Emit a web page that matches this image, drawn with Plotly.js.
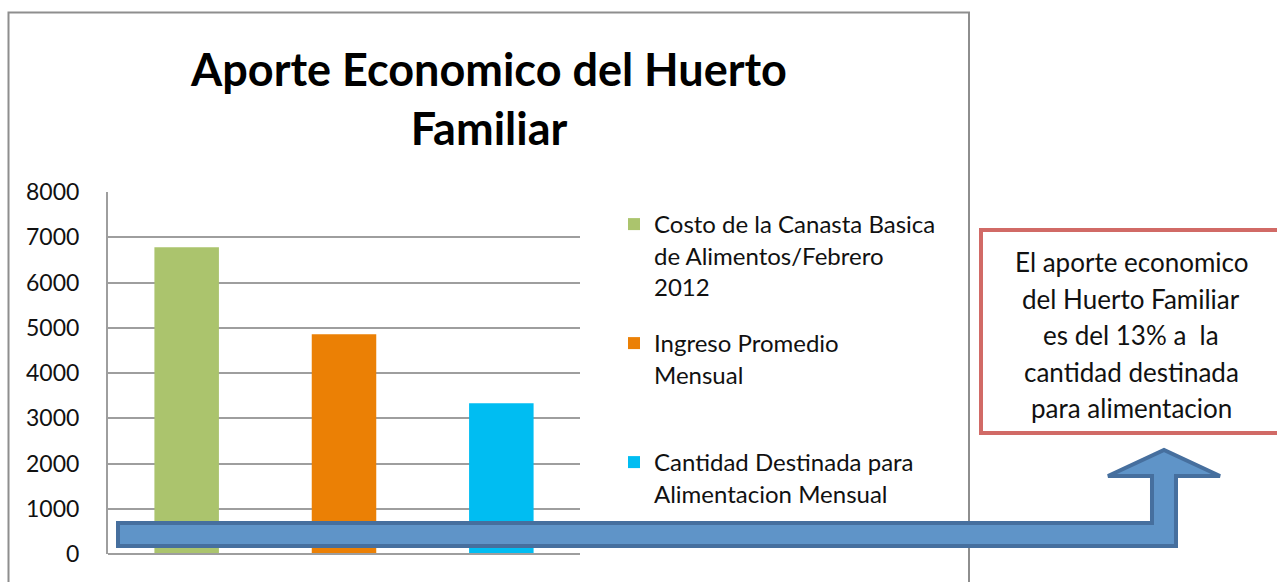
<!DOCTYPE html>
<html>
<head>
<meta charset="utf-8">
<script src="https://cdn.plot.ly/plotly-3.0.1.min.js"></script>
<style>html,body{margin:0;padding:0;background:#fff;}#chart{width:1277px;height:582px;}</style>
</head>
<body>
<div id="chart"></div>
<script>
// ---- data ----
const categories = ['Costo de la Canasta Basica de Alimentos/Febrero 2012', 'Ingreso Promedio Mensual', 'Cantidad Destinada para Alimentacion Mensual'];
const legendLabels = ['Costo de la Canasta Basica<br>de Alimentos/Febrero<br>2012', 'Ingreso Promedio<br>Mensual', 'Cantidad Destinada para<br>Alimentacion Mensual'];
const values = [6780, 4857, 3333];
const colors = ['#ABC46D', '#EB8005', '#00BDF2'];
const titleText = 'Aporte Economico del Huerto<br>Familiar';
const noteLines = ['El aporte economico', 'del Huerto Familiar', 'es del 13% a  la', 'cantidad destinada', 'para alimentacion'];
const yTicks = [0, 1000, 2000, 3000, 4000, 5000, 6000, 7000, 8000];

// ---- geometry (pixels) ----
const W = 1277, H = 582;
const L = 108, R = 580, T = 192, B = 554;
const px = x => (x - L) / (R - L);
const py = y => (B - y) / (B - T);
const FONT = 'Lato, "Open Sans", sans-serif';

const legendNames = ['legend', 'legend2', 'legend3'];
const traces = categories.map((c, i) => ({
  type: 'bar',
  x: [c],
  y: [values[i]],
  name: legendLabels[i],
  marker: {color: colors[i]},
  width: 0.41,
  legend: legendNames[i],
  hoverinfo: 'y'
}));

const legendTops = [202, 321, 440];
const legendCommon = {
  xanchor: 'left', yanchor: 'top', valign: 'top',
  font: {family: FONT, size: 24, color: '#111'},
  bgcolor: 'rgba(0,0,0,0)', borderwidth: 0, itemclick: false, itemdoubleclick: false
};
const layout = {
  width: W, height: H,
  margin: {l: L, r: W - R, t: T, b: H - B, pad: 0},
  paper_bgcolor: '#fff', plot_bgcolor: '#fff',
  barmode: 'overlay',
  showlegend: true,
  title: {
    text: titleText,
    font: {family: FONT, size: 45, color: '#000', weight: 'bold'},
    xref: 'container', x: 489 / W, xanchor: 'center',
    yref: 'container', y: 1 - 86 / H, yanchor: 'top'
  },
  xaxis: {
    type: 'category', categoryarray: categories, showticklabels: false,
    showgrid: false, zeroline: false, showline: false, ticks: '', fixedrange: true
  },
  yaxis: {
    range: [0, 8000], tickvals: yTicks, ticktext: yTicks.map(String),
    showgrid: true, gridcolor: '#9e9e9e', gridwidth: 2,
    zeroline: false, showline: true, linecolor: '#9e9e9e', linewidth: 2,
    ticks: '', ticklabelstandoff: 22,
    tickfont: {family: FONT, size: 23, color: '#111'}, fixedrange: true
  },
  shapes: [
    // outer chart frame
    {type: 'rect', xref: 'paper', yref: 'paper', x0: px(8.5), x1: px(969), y0: py(12.5), y1: py(600),
     line: {color: '#8e8e8e', width: 2}, fillcolor: 'rgba(0,0,0,0)', layer: 'below'},
    // x baseline
    {type: 'line', xref: 'paper', yref: 'paper', x0: 0, x1: 1, y0: 0, y1: 0, line: {color: '#9e9e9e', width: 2}},
    // note box
    {type: 'rect', xref: 'paper', yref: 'paper', x0: px(981), x1: px(1284), y0: py(230), y1: py(433),
     line: {color: '#D16A66', width: 4}, fillcolor: '#ffffff', layer: 'above'},
    // bent arrow
    {type: 'path', xref: 'paper', yref: 'paper', layer: 'above',
     path: [[118, 523], [1152, 523], [1152, 476], [1108, 476], [1164, 450], [1220, 476], [1176, 476], [1176, 546], [118, 546]]
       .map((p, k) => (k ? 'L' : 'M') + px(p[0]).toFixed(5) + ',' + py(p[1]).toFixed(5)).join(' ') + ' Z',
     fillcolor: '#5F94C8', line: {color: '#466F9E', width: 4}}
  ],
  annotations: noteLines.map((t, i) => ({
    text: t, xref: 'paper', yref: 'paper', x: px(1131), y: py(262 + i * 36.5),
    xanchor: 'center', yanchor: 'middle', showarrow: false,
    font: {family: FONT, size: 26, color: '#111'}
  }))
};
legendNames.forEach((n, i) => {
  layout[n] = Object.assign({}, legendCommon, {x: px(614), y: py(legendTops[i])});
});

Plotly.newPlot('chart', traces, layout, {displayModeBar: false, staticPlot: true});
</script>
</body>
</html>
